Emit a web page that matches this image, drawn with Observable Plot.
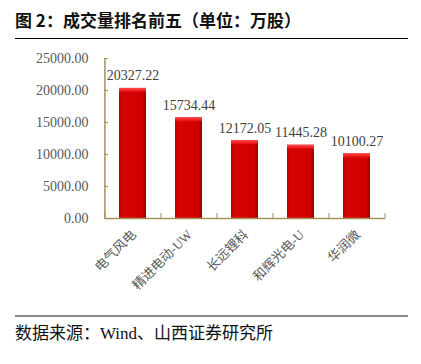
<!DOCTYPE html>
<html>
<head>
<meta charset="utf-8">
<script src="https://cdn.jsdelivr.net/npm/d3@7"></script>
<script src="https://cdn.jsdelivr.net/npm/@observablehq/plot@0.6"></script>
<style>
  html, body { margin: 0; padding: 0; background: #fff; }
  #page { position: relative; width: 421px; height: 364px; overflow: hidden; background: #fff; }
  #title { position: absolute; left: 15px; top: 10px; font-family: "Noto Sans CJK SC", sans-serif; font-weight: bold; font-size: 17px; line-height: 20px; color: #111; white-space: nowrap; }
  #rule1 { position: absolute; left: 15px; width: 393px; top: 38px; height: 1px; background: #000; }
  #chart { position: absolute; left: 0; top: 40px; }
  #rule2 { position: absolute; left: 15px; width: 393px; top: 315px; height: 2px; background: #8a8a8a; }
  #caption { position: absolute; left: 15px; top: 324px; font-family: "Liberation Serif", "Noto Sans CJK SC", serif; font-size: 17px; line-height: 20px; color: #111; white-space: nowrap; }
</style>
</head>
<body>
<div id="page">
  <div id="title">图 2：成交量排名前五（单位：万股）</div>
  <div id="rule1"></div>
  <div id="chart"></div>
  <div id="rule2"></div>
  <div id="caption">数据来源：Wind、山西证券研究所</div>
</div>
<script>
const categories = ["电气风电", "精进电动-UW", "长远锂科", "和辉光电-U", "华润微"];
const volumes = [20327.22, 15734.44, 12172.05, 11445.28, 10100.27];
const yTicks = [0, 5000, 10000, 15000, 20000, 25000];

const data = categories.map((c, i) => ({name: c, value: volumes[i]}));
const axisColor = "#a3935f";
const serif = "'Liberation Serif', 'Times New Roman', 'Noto Sans CJK SC', serif";
const half = 28.1;

const chart = Plot.plot({
  width: 421,
  height: 270,
  marginTop: 18,
  marginBottom: 92,
  marginLeft: 104,
  marginRight: 36,
  style: {background: "transparent", overflow: "visible"},
  x: {type: "band", domain: categories, paddingInner: 0.51, paddingOuter: 0.255, label: null},
  y: {domain: [0, 25000], label: null},
  marks: [
    Plot.barY(data, {x: "name", y: "value", fill: "url(#barGrad)"}),
    Plot.barY(data, {x: "name", y1: "value", y2: "value", insetBottom: -4, fill: "url(#topGrad)"}),
    Plot.ruleY([0], {stroke: axisColor, strokeWidth: 1.5}),
    Plot.ruleX([categories[0]], {y1: 0, y2: 25000, dx: -half, stroke: axisColor, strokeWidth: 1.5}),
    Plot.axisY({ticks: yTicks, tickSize: 0, tickPadding: 16, tickFormat: d => d.toFixed(2), fontSize: 14, fill: "#595959", fontFamily: serif}),
    Plot.axisY({ticks: yTicks, tickSize: -4, text: null, stroke: axisColor, dx: 0}),
    Plot.axisX({ticks: categories, tickSize: -5, text: null, dx: -half, stroke: axisColor}),
    Plot.axisX({ticks: [categories[4]], tickSize: -5, text: null, dx: half, stroke: axisColor}),
    Plot.axisX({tickSize: 0, tickRotate: -45, tickPadding: 4, dx: 1, dy: 10, fontSize: 13, fill: "#595959", fontFamily: serif}),
    Plot.text(data, {x: "name", y: "value", text: d => d.value.toFixed(2), lineAnchor: "bottom", dy: -8, fontSize: 14, fill: "#404040", fontFamily: serif})
  ]
});

chart.insertAdjacentHTML("afterbegin", `
<defs>
  <linearGradient id="barGrad" x1="0" y1="0" x2="1" y2="0">
    <stop offset="0" stop-color="#b80000"/>
    <stop offset="0.12" stop-color="#d60404"/>
    <stop offset="0.85" stop-color="#d00000"/>
    <stop offset="1" stop-color="#9a0000"/>
  </linearGradient>
  <linearGradient id="topGrad" x1="0" y1="0" x2="0" y2="1">
    <stop offset="0" stop-color="#ff4a4a"/>
    <stop offset="1" stop-color="#e80c0c"/>
  </linearGradient>
</defs>`);

document.getElementById("chart").appendChild(chart);
</script>
</body>
</html>
